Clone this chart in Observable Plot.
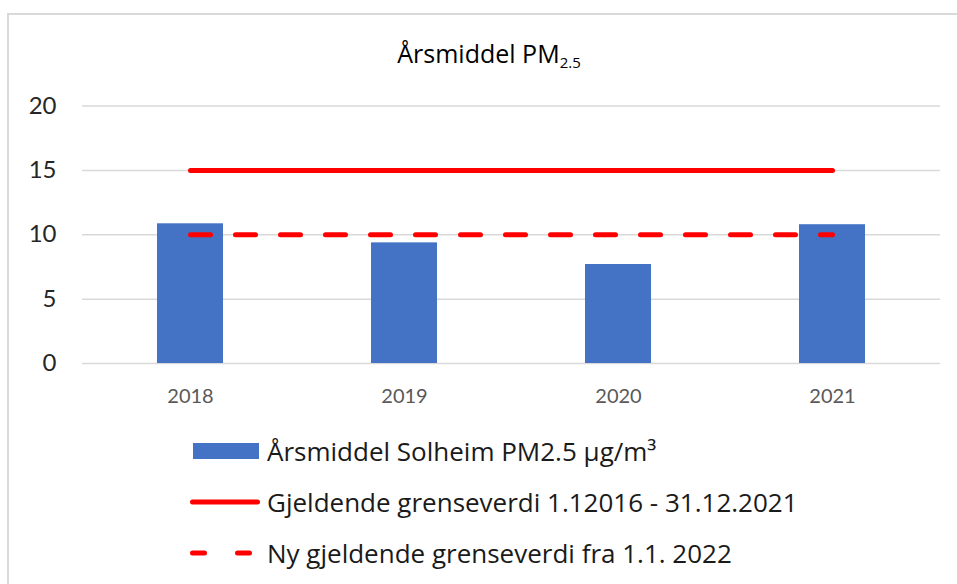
<!DOCTYPE html>
<html>
<head>
<meta charset="utf-8">
<script src="https://cdn.jsdelivr.net/npm/d3@7"></script>
<script src="https://cdn.jsdelivr.net/npm/@observablehq/plot@0.6"></script>
<style>
  html, body { margin: 0; padding: 0; background: #fff; overflow: hidden; }
  body { font-family: "Open Sans", Lato, sans-serif; }
  #wrap { position: relative; width: 957px; height: 584px; overflow: hidden; }
  #frame { position: absolute; left: 7px; top: 13px; width: 1000px; height: 1000px; border: 2px solid #d9d9d9; box-sizing: border-box; }
  #title { position: absolute; left: 0; top: 37px; width: 978px; text-align: center; font-size: 25px; color: #000; line-height: 33px; }
  #title sub { font-size: 15px; vertical-align: -5px; line-height: 0; }
  #chart { position: absolute; left: 0; top: 80px; }
  .row { position: absolute; left: 188px; height: 30px; display: flex; align-items: center; font-size: 26px; color: #1a1a1a; white-space: nowrap; }
  .row svg { display: block; margin-right: 7px; }
</style>
</head>
<body>
<div id="wrap">
  <div id="frame"></div>
  <div id="title">Årsmiddel PM<sub>2.5</sub></div>
  <div id="chart"></div>
  <div id="legend"></div>
</div>
<script>
const years = ["2018", "2019", "2020", "2021"];
const pm25 = [10.85, 9.37, 7.69, 10.78];
const limitCurrent = [15, 15, 15, 15];
const limitNew = [10, 10, 10, 10];
const yTicks = [0, 5, 10, 15, 20];
const legendLabels = [
  "Årsmiddel Solheim PM2.5 µg/m³",
  "Gjeldende grenseverdi 1.12016 - 31.12.2021",
  "Ny gjeldende grenseverdi fra 1.1. 2022"
];

const rows = years.map((year, i) => ({year, pm: pm25[i], cur: limitCurrent[i], nyv: limitNew[i]}));

const plot = Plot.plot({
  width: 957,
  height: 340,
  marginLeft: 82,
  marginRight: 17,
  marginTop: 25.5,
  marginBottom: 57,
  style: {fontFamily: "Lato, 'Open Sans', sans-serif", background: "transparent", overflow: "visible"},
  x: {domain: years, paddingInner: 0.692, paddingOuter: 0.346, label: null},
  y: {domain: [0, 20], ticks: yTicks, label: null},
  marks: [
    Plot.gridY(yTicks, {stroke: "#d9d9d9", strokeOpacity: 1, strokeWidth: 1.5}),
    Plot.barY(rows, {x: "year", y: "pm", fill: "#4472c4"}),
    Plot.lineY(rows, {x: "year", y: "cur", stroke: "#ff0000", strokeWidth: 5, strokeLinecap: "round"}),
    Plot.lineY(rows, {x: "year", y: "nyv", stroke: "#ff0000", strokeWidth: 5, strokeLinecap: "round", strokeDasharray: "20,25"}),
    Plot.axisY(yTicks, {tickSize: 0, tickPadding: 26, fontSize: 24, fill: "#262626", label: null}),
    Plot.axisX(years, {tickSize: 0, tickPadding: 25, fontSize: 20, fill: "#595959", label: null})
  ]
});
document.getElementById("chart").appendChild(plot);

// legend
const legend = document.getElementById("legend");
const centers = [451, 502, 553];
const swatches = [
  `<svg width="72" height="30"><rect x="5" y="7" width="66" height="16" fill="#4472c4"/></svg>`,
  `<svg width="72" height="30"><line x1="4.5" x2="69.5" y1="15" y2="15" stroke="#ff0000" stroke-width="5" stroke-linecap="round"/></svg>`,
  `<svg width="72" height="30"><line x1="4.5" x2="69.5" y1="15" y2="15" stroke="#ff0000" stroke-width="5" stroke-linecap="round" stroke-dasharray="12,33"/></svg>`
];
legendLabels.forEach((label, i) => {
  const d = document.createElement("div");
  d.className = "row";
  d.style.top = (centers[i] - 15) + "px";
  d.innerHTML = swatches[i] + `<span>${label}</span>`;
  legend.appendChild(d);
});
</script>
</body>
</html>
